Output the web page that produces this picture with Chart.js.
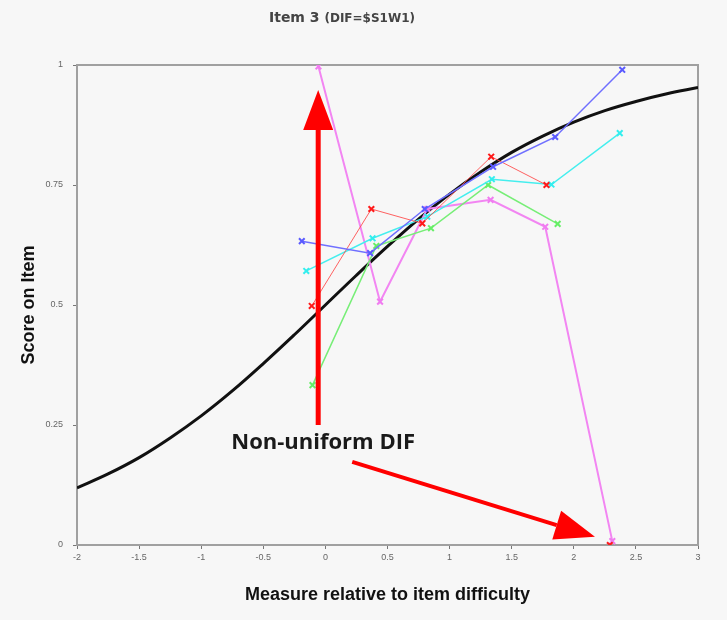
<!DOCTYPE html>
<html>
<head>
<meta charset="utf-8">
<script src="https://cdn.jsdelivr.net/npm/chart.js@4/dist/chart.umd.min.js"></script>
<style>
  html, body { margin: 0; padding: 0; background: #f7f7f7; }
  #wrap { width: 727px; height: 620px; }
</style>
</head>
<body>
<div id="wrap"><canvas id="chart" width="727" height="620"></canvas></div>
<script>
// model curve
const curveX = [-2, -1.75, -1.5, -1.25, -1, -0.75, -0.5, -0.25, 0, 0.25, 0.5, 0.75, 1, 1.25, 1.5, 1.75, 2, 2.25, 2.5, 2.75, 3];
const curveY = [0.119, 0.148, 0.182, 0.223, 0.269, 0.321, 0.378, 0.438, 0.500, 0.562, 0.622, 0.679, 0.731, 0.777, 0.818, 0.852, 0.881, 0.905, 0.924, 0.940, 0.953];

// empirical groups
const blueX = [-0.19, 0.36, 0.80, 1.35, 1.85, 2.39];
const blueY = [0.633, 0.608, 0.70, 0.788, 0.85, 0.99];
const redX = [-0.11, 0.37, 0.78, 1.335, 1.78, 2.0, 2.29];
const redY = [0.498, 0.70, 0.67, 0.809, 0.75, null, 0.0];
const cyanX = [-0.154, 0.38, 0.82, 1.34, 1.82, 2.37];
const cyanY = [0.571, 0.639, 0.684, 0.762, 0.751, 0.858];
const greenX = [-0.104, 0.41, 0.85, 1.31, 1.87];
const greenY = [0.333, 0.623, 0.66, 0.75, 0.669];
const pinkX = [-0.056, 0.44, 0.82, 1.33, 1.77, 2.31];
const pinkY = [0.997, 0.507, 0.70, 0.719, 0.663, 0.008];

const xTicks = [-2, -1.5, -1, -0.5, 0, 0.5, 1, 1.5, 2, 2.5, 3];
const yTicks = [0, 0.25, 0.5, 0.75, 1];

// annotation positions in data units
const arrows = [
  { from: [-0.058, 0.25], to: [-0.058, 0.948], width: 5 },
  { from: [0.216, 0.173], to: [2.17, 0.017], width: 4 }
];
const note = { text: 'Non-uniform DIF', at: [-0.018, 0.2125] };

function pts(xs, ys) {
  return xs.map((x, i) => ({ x: x, y: ys[i] }));
}

function group(label, xs, ys, color, lineColor, lw) {
  return {
    label: label,
    data: pts(xs, ys),
    showLine: true,
    spanGaps: false,
    borderColor: lineColor,
    borderWidth: lw,
    pointStyle: 'crossRot',
    pointRadius: 4,
    pointBorderWidth: 2,
    pointBorderColor: color,
    pointBackgroundColor: color,
    tension: 0
  };
}

const framePlugin = {
  id: 'frame',
  beforeDatasetsDraw(chart) {
    const { ctx, chartArea: a } = chart;
    ctx.save();
    ctx.strokeStyle = '#a0a0a0';
    ctx.lineWidth = 2;
    ctx.strokeRect(a.left, a.top, a.right - a.left, a.bottom - a.top);
    ctx.restore();
  }
};

const notesPlugin = {
  id: 'notes',
  afterDatasetsDraw(chart) {
    const ctx = chart.ctx;
    const xs = chart.scales.x, ys = chart.scales.y;
    ctx.save();
    arrows.forEach(a => {
      const x1 = xs.getPixelForValue(a.from[0]), y1 = ys.getPixelForValue(a.from[1]);
      const x2 = xs.getPixelForValue(a.to[0]), y2 = ys.getPixelForValue(a.to[1]);
      const ang = Math.atan2(y2 - y1, x2 - x1);
      const headLen = 40, headW = 15;
      const bx = x2 - headLen * Math.cos(ang), by = y2 - headLen * Math.sin(ang);
      ctx.strokeStyle = '#ff0000';
      ctx.fillStyle = '#ff0000';
      ctx.lineWidth = a.width;
      ctx.beginPath();
      ctx.moveTo(x1, y1);
      ctx.lineTo(bx, by);
      ctx.stroke();
      ctx.beginPath();
      ctx.moveTo(x2, y2);
      ctx.lineTo(bx + headW * Math.sin(ang), by - headW * Math.cos(ang));
      ctx.lineTo(bx - headW * Math.sin(ang), by + headW * Math.cos(ang));
      ctx.closePath();
      ctx.fill();
    });
    ctx.fillStyle = '#1a1a1a';
    ctx.font = 'bold 22px "Open Sans"';
    ctx.textAlign = 'center';
    ctx.textBaseline = 'middle';
    ctx.fillText(note.text, xs.getPixelForValue(note.at[0]), ys.getPixelForValue(note.at[1]));

    // title
    ctx.fillStyle = '#444';
    ctx.textAlign = 'left';
    ctx.font = 'bold 14px "DejaVu Sans"';
    const t1 = 'Item 3 ';
    const w1 = ctx.measureText(t1).width;
    ctx.font = 'bold 12px "DejaVu Sans"';
    const t2 = '(DIF=$S1W1)';
    const w2 = ctx.measureText(t2).width;
    const left = 342 - (w1 + w2) / 2;
    ctx.font = 'bold 14px "DejaVu Sans"';
    ctx.fillText(t1, left, 18);
    ctx.font = 'bold 12px "DejaVu Sans"';
    ctx.fillText(t2, left + w1, 19);
    ctx.restore();
  }
};

const axisFont = { family: 'Liberation Sans, Arial', size: 18, weight: 'bold' };
const tickFont = { family: 'Liberation Sans, Arial', size: 9 };

new Chart(document.getElementById('chart'), {
  type: 'scatter',
  data: {
    datasets: [
      group('blue', blueX, blueY, '#5a5aff', '#6f6fff', 1.5),
      group('red', redX, redY, '#ff1a1a', 'rgba(255,70,70,0.85)', 1),
      group('cyan', cyanX, cyanY, '#33eeee', '#44eeee', 1.5),
      group('green', greenX, greenY, '#66ee66', '#77ee77', 1.5),
      group('pink', pinkX, pinkY, '#f07cf0', '#f285f2', 2),
      {
        label: 'model',
        data: pts(curveX, curveY),
        showLine: true,
        borderColor: '#111',
        borderWidth: 3,
        pointRadius: 0,
        tension: 0.4
      }
    ]
  },
  options: {
    responsive: false,
    animation: false,
    layout: { padding: { top: 65, right: 29, left: 0, bottom: 0 } },
    plugins: {
      legend: { display: false },
      tooltip: { enabled: false },
      title: { display: false }
    },
    scales: {
      x: {
        type: 'linear',
        min: -2,
        max: 3,
        afterFit: s => { s.height = 75; },
        afterBuildTicks: s => { s.ticks = xTicks.map(v => ({ value: v })); },
        grid: { drawOnChartArea: false, drawTicks: true, tickLength: 4, color: '#777' },
        border: { display: true, color: '#909090', width: 2 },
        ticks: { font: tickFont, color: '#666', padding: 3, maxRotation: 0, callback: v => String(v) },
        title: { display: true, text: 'Measure relative to item difficulty', font: axisFont, color: '#111', padding: { top: 0, bottom: 14 } }
      },
      y: {
        type: 'linear',
        min: 0,
        max: 1,
        afterFit: s => { s.width = 77; },
        afterBuildTicks: s => { s.ticks = yTicks.map(v => ({ value: v })); },
        grid: { drawOnChartArea: false, drawTicks: true, tickLength: 4, color: '#777' },
        border: { display: true, color: '#909090', width: 2 },
        ticks: { font: tickFont, color: '#666', padding: 10, callback: v => String(v) },
        title: { display: true, text: 'Score on Item', font: axisFont, color: '#111', padding: { top: 18, bottom: 0 } }
      }
    }
  },
  plugins: [framePlugin, notesPlugin]
});
</script>
</body>
</html>
